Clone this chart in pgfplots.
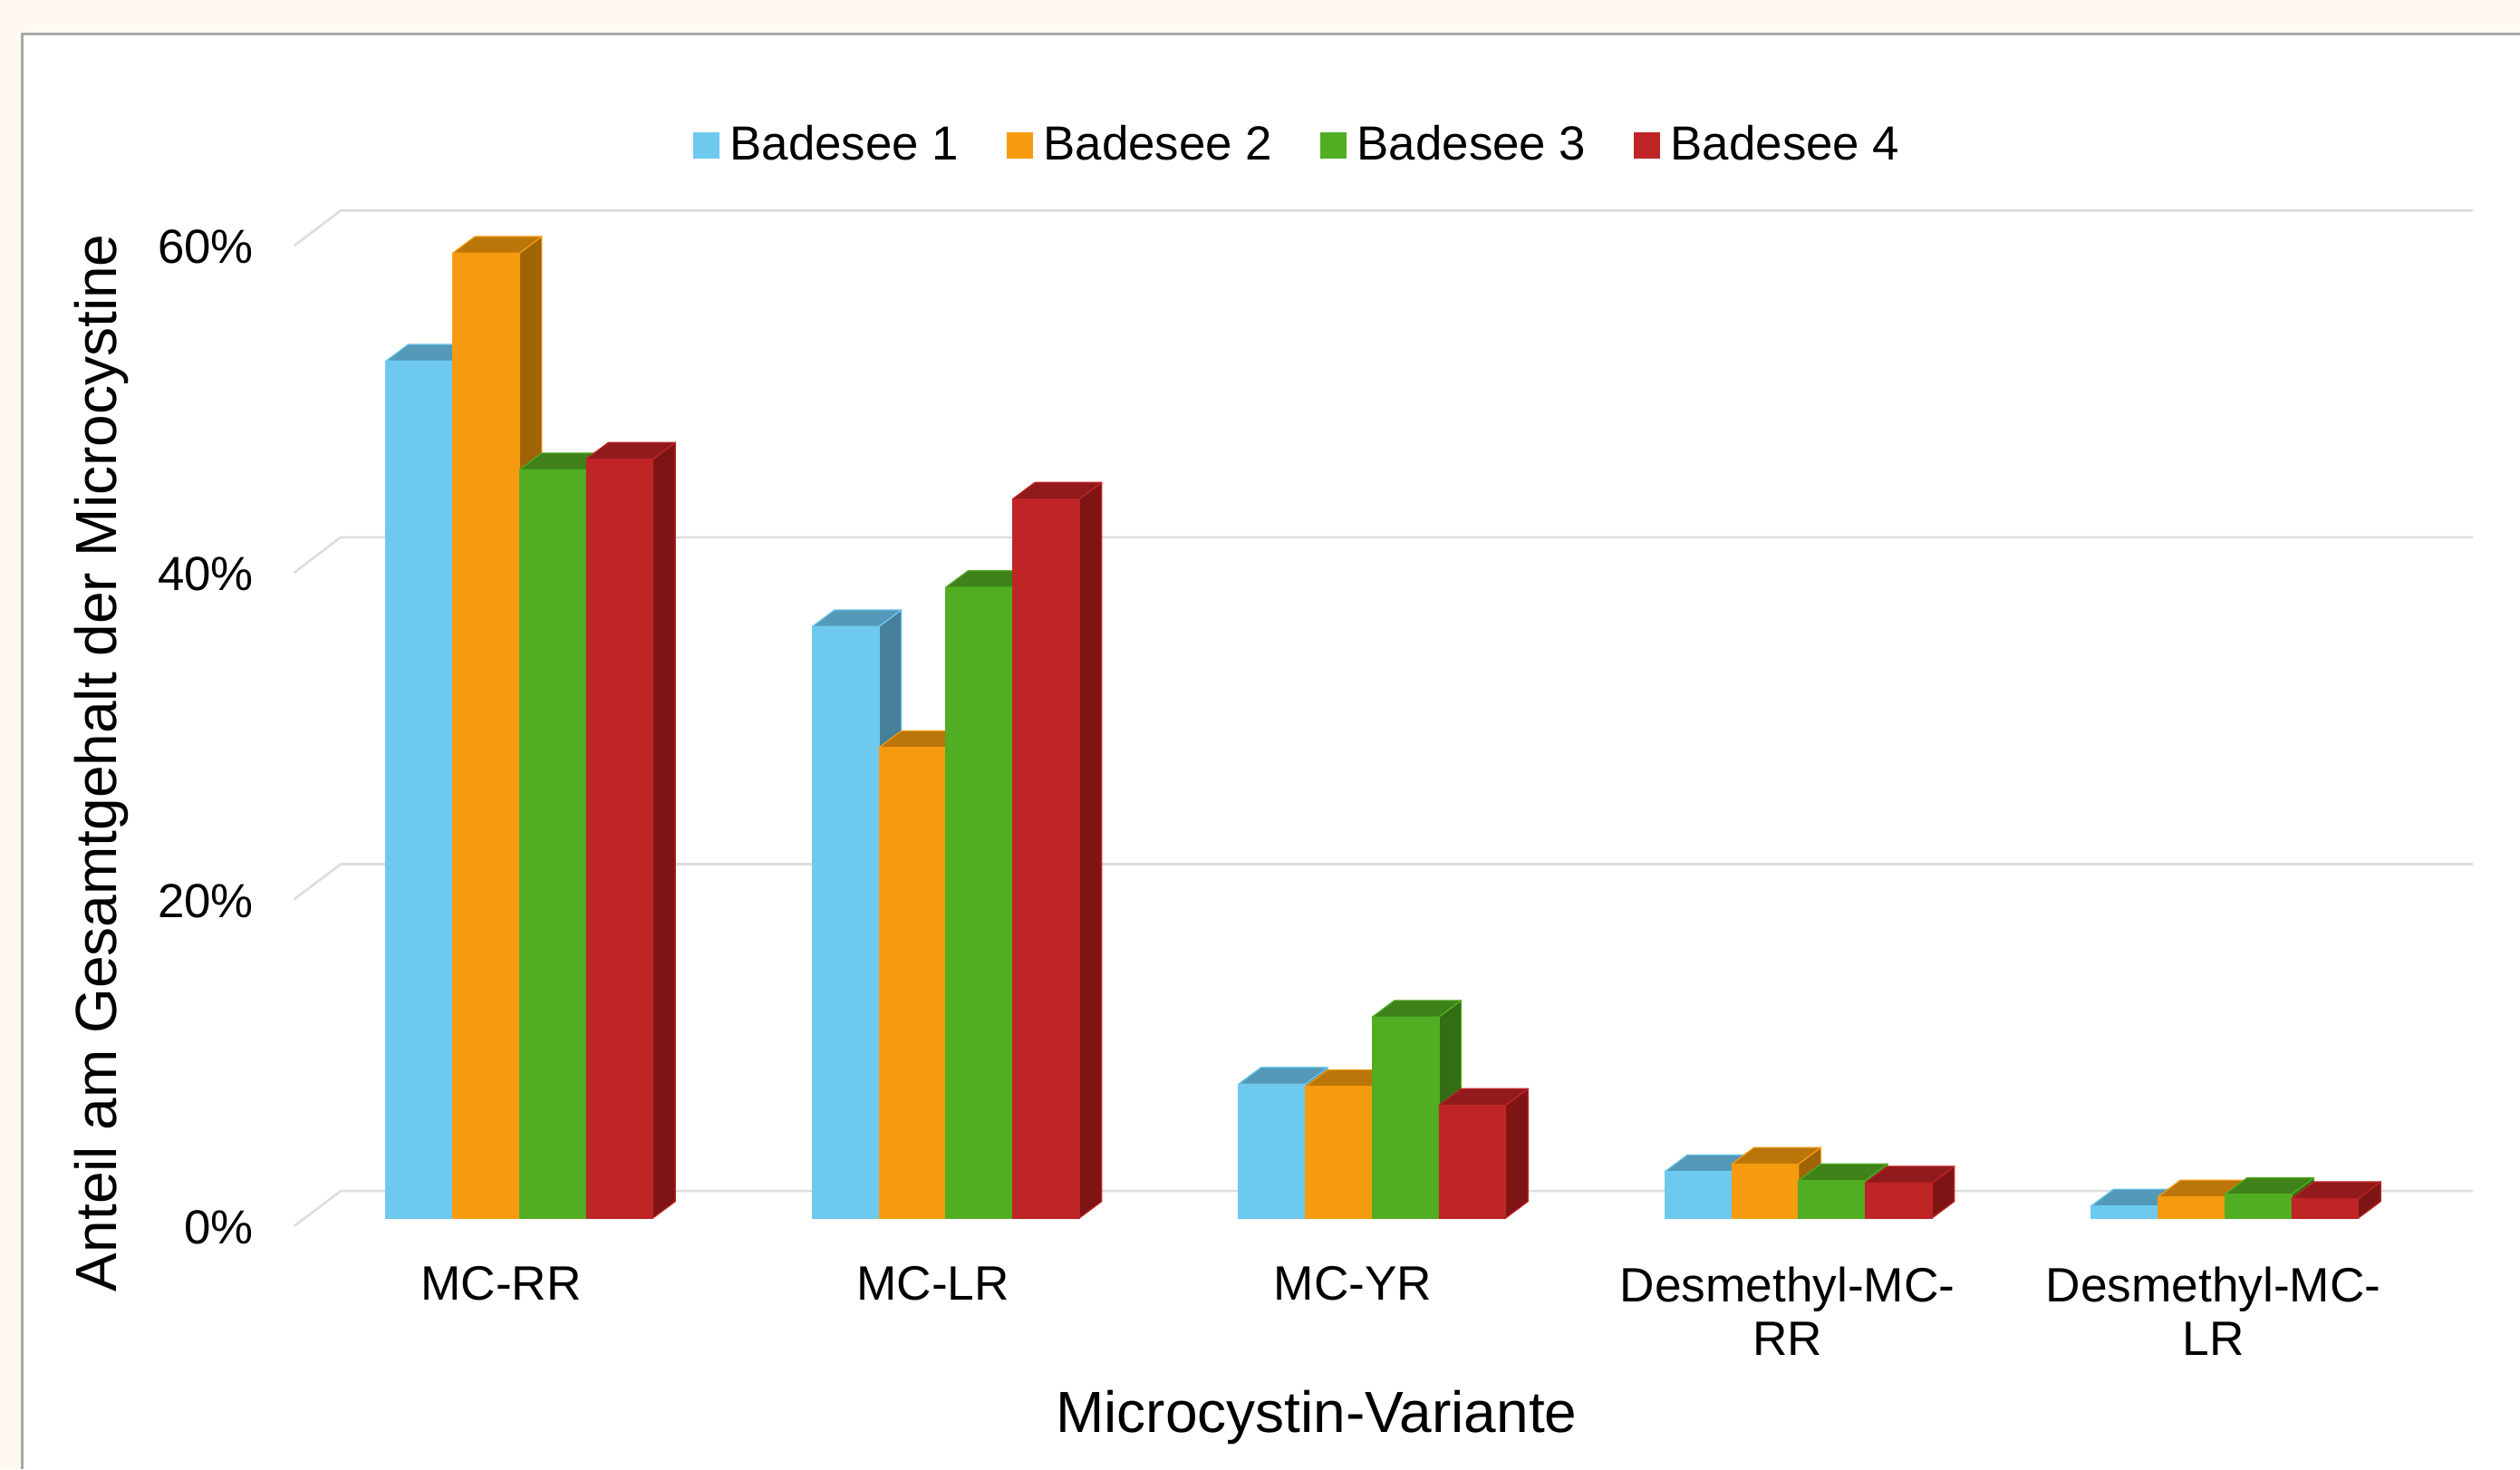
\documentclass[border=0pt]{standalone}
\usepackage{fontspec}
\setmainfont{Liberation Sans}
\usepackage{pgfplots}
\pgfplotsset{compat=1.18}
\definecolor{cream}{HTML}{FFF9F2}
\definecolor{framec}{HTML}{A8A8A8}
\definecolor{gridc}{HTML}{DDDDDD}
\definecolor{blue}{HTML}{6EC9EF}
\definecolor{blueT}{HTML}{5499B7}
\definecolor{blueS}{HTML}{457F99}
\definecolor{orange}{HTML}{F69B0F}
\definecolor{orangeT}{HTML}{BA7608}
\definecolor{orangeS}{HTML}{9E6405}
\definecolor{green}{HTML}{51AD22}
\definecolor{greenT}{HTML}{3E8219}
\definecolor{greenS}{HTML}{336D15}
\definecolor{red}{HTML}{BF2427}
\definecolor{redT}{HTML}{911A1C}
\definecolor{redS}{HTML}{7E1514}
% side and top faces of one bar: left edge, value, colour
\newcommand{\barfaces}[3]{%
  \pgfmathsetmacro\xr{#1+0.1566}%
  \pgfmathsetmacro\xrd{\xr+0.0525}%
  \pgfmathsetmacro\xld{#1+0.0525}%
  \pgfmathsetmacro\vd{#2+1.02}%
  \addplot[forget plot,fill=#3S,draw=#3,line width=.3pt,line join=round] coordinates {(\xr,0)(\xrd,1.02)(\xrd,\vd)(\xr,#2)} -- cycle;
  \addplot[forget plot,fill=#3T,draw=#3,line width=.3pt,line join=round] coordinates {(#1,#2)(\xr,#2)(\xrd,\vd)(\xld,\vd)} -- cycle;
}
\pgfplotsset{
  front/.style={ybar,bar width=18.425pt,fill=#1,draw=#1,line width=.2pt,
    legend image code/.code={\fill[#1] (0pt,-3.5pt) rectangle (7pt,3.5pt);}},
  gridl/.style={forget plot,draw=gridc,line width=.65pt,line join=round}
}
\begin{document}
\begin{tikzpicture}
\path[use as bounding box] (0,0) rectangle (695.25pt,405.25pt);
\fill[cream] (0,0) rectangle (695.25pt,405.25pt);
\fill[white] (6.125pt,0) rectangle (695.25pt,395.75pt);
\draw[framec,line width=.75pt] (6.125pt,0) -- (6.125pt,395.75pt) -- (695.25pt,395.75pt);
\begin{axis}[
  at={(81.125pt,69.25pt)},anchor=south west,
  scale only axis,width=601.125pt,height=315.525pt,
  xmin=-0.5286,xmax=4.582,ymin=0,ymax=70,clip=false,
  axis line style={draw=none},major tick length=0pt,
  ytick={0,20,40,60},
  yticklabel={\pgfmathprintnumber{\tick}\%},
  /pgf/number format/assume math mode=true,
  yticklabel style={font=\fontsize{13.2}{15.25}\selectfont,anchor=east,inner sep=0pt,xshift=-11.0pt,yshift=-2.65pt},
  xtick={-0.043,0.97,1.955,2.974,3.973},
  xticklabels={MC-RR,MC-LR,MC-YR,{Desmethyl-MC-\\RR},{Desmethyl-MC-\\LR}},
  xticklabel style={font=\fontsize{13.3}{14.8}\selectfont,align=center,anchor=north,inner sep=0pt,yshift=-13.2pt},
  xlabel={Microcystin-Variante},
  xlabel style={font=\fontsize{16}{20}\selectfont,at={(axis description cs:0.4693,-0.1744)},anchor=center},
  ylabel={Anteil am Gesamtgehalt der Microcystine},
  ylabel style={font=\fontsize{16}{20}\selectfont,at={(axis description cs:-0.0885,0.398)},anchor=center},
  legend columns=4,
  legend cell align=left,
  legend style={draw=none,fill=none,inner sep=0pt,
    font=\fontsize{13.2}{15.25}\selectfont,
    at={(axis description cs:0.1828,0.9378)},anchor=west,
    nodes={inner xsep=0pt,inner ysep=1pt},
    /tikz/every even column/.append style={column sep=13.19pt},
    /tikz/every odd column/.append style={column sep=3.0pt}},
]
% gridlines: front end, back corner, right end
\addplot[gridl] coordinates {(-0.5286,-0.5)(-0.4191,1.66)(4.582,1.66)};
\addplot[gridl] coordinates {(-0.5286,19.5)(-0.4191,21.66)(4.582,21.66)};
\addplot[gridl] coordinates {(-0.5286,39.5)(-0.4191,41.66)(4.582,41.66)};
\addplot[gridl] coordinates {(-0.5286,59.5)(-0.4191,61.66)(4.582,61.66)};
% Badesee 1
\barfaces{-0.3133}{52.45}{blue}
\barfaces{0.6867}{36.2}{blue}
\barfaces{1.6867}{8.2}{blue}
\barfaces{2.6867}{2.85}{blue}
\barfaces{3.6867}{0.75}{blue}
\addplot[front=blue,bar shift=-27.64pt] coordinates {(0,52.45)(1,36.2)(2,8.2)(3,2.85)(4,0.75)};
\addlegendentry{Badesee 1}
% Badesee 2
\barfaces{-0.1567}{59.05}{orange}
\barfaces{0.8433}{28.8}{orange}
\barfaces{1.8433}{8.05}{orange}
\barfaces{2.8433}{3.3}{orange}
\barfaces{3.8433}{1.3}{orange}
\addplot[front=orange,bar shift=-9.21pt] coordinates {(0,59.05)(1,28.8)(2,8.05)(3,3.3)(4,1.3)};
\addlegendentry{Badesee 2}
% Badesee 3
\barfaces{0}{45.8}{green}
\barfaces{1}{38.6}{green}
\barfaces{2}{12.3}{green}
\barfaces{3}{2.3}{green}
\barfaces{4}{1.45}{green}
\addplot[front=green,bar shift=9.21pt] coordinates {(0,45.8)(1,38.6)(2,12.3)(3,2.3)(4,1.45)};
\addlegendentry{Badesee 3}
% Badesee 4
\barfaces{0.1567}{46.45}{red}
\barfaces{1.1567}{44.0}{red}
\barfaces{2.1567}{6.9}{red}
\barfaces{3.1567}{2.15}{red}
\barfaces{4.1567}{1.2}{red}
\addplot[front=red,bar shift=27.64pt] coordinates {(0,46.45)(1,44.0)(2,6.9)(3,2.15)(4,1.2)};
\addlegendentry{Badesee 4}
\end{axis}
\end{tikzpicture}
\end{document}
